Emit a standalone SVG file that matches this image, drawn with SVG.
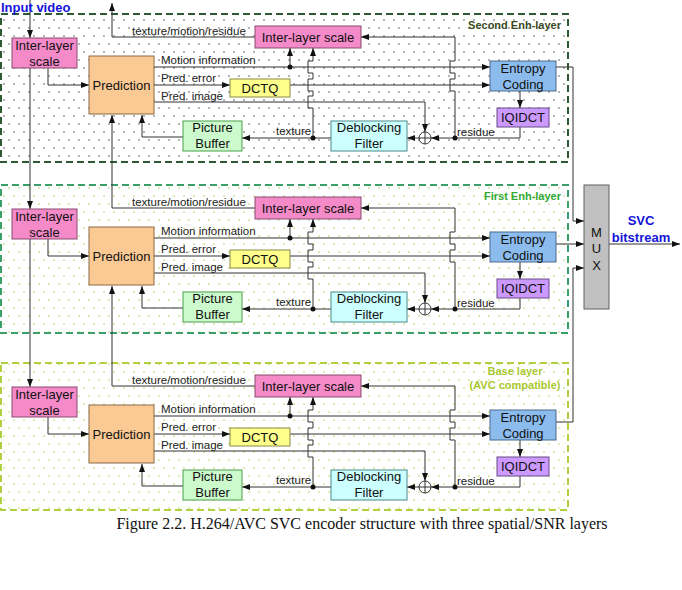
<svg xmlns="http://www.w3.org/2000/svg" width="682" height="590" viewBox="0 0 682 590">
<defs>
<style>
.ln{fill:none;stroke:#333;stroke-width:1}
.ar{marker-end:url(#ah)}
.t{font-family:"Liberation Sans",Arial,sans-serif;font-size:13px;fill:#111;text-anchor:middle}
.s{font-family:"Liberation Sans",Arial,sans-serif;font-size:11.5px;fill:#222}
.lab{font-family:"Liberation Sans",Arial,sans-serif;font-size:11px;font-weight:bold}
.blue{font-family:"Liberation Sans",Arial,sans-serif;font-size:13px;font-weight:bold;fill:#1414d8}
.ils{fill:#f48ac8;stroke:#8a4a70}
.pred{fill:#fbc994;stroke:#8a6a45}
.dctq{fill:#ffff8c;stroke:#8a8a45}
.pbuf{fill:#ccfacc;stroke:#4aa04a}
.dbf{fill:#ccffff;stroke:#4a8a8a}
.ent{fill:#8cbcee;stroke:#4a6a8a}
.iq{fill:#cc99ff;stroke:#6a4a8a}
.dot{fill:#111}
</style>
<marker id="ah" viewBox="0 0 8 8" refX="8" refY="4" markerWidth="8" markerHeight="8" markerUnits="userSpaceOnUse" orient="auto"><path d="M0,1 L8,4 L0,7z" fill="#111"/></marker>
<pattern id="dA" patternUnits="userSpaceOnUse" width="10" height="16"><circle cx="4" cy="4" r="0.8" fill="#555"/><circle cx="9" cy="12" r="0.8" fill="#555"/></pattern>
<pattern id="dB" patternUnits="userSpaceOnUse" width="10" height="16"><circle cx="4" cy="4" r="0.85" fill="#bfd27a"/><circle cx="9" cy="12" r="0.85" fill="#bfd27a"/></pattern>
<pattern id="dC" patternUnits="userSpaceOnUse" width="10" height="16"><circle cx="4" cy="4" r="0.85" fill="#c4d870"/><circle cx="9" cy="12" r="0.85" fill="#c4d870"/></pattern>
</defs>
<rect width="682" height="590" fill="#fff"/>

<g id="layers">
<rect id="layer2" x="1" y="14" width="567" height="148" fill="url(#dA)" stroke="#2d5a32" stroke-width="2" stroke-dasharray="7,4"/>
<rect id="layer1" x="1" y="185" width="567" height="148" fill="url(#dB)" stroke="#3aa06a" stroke-width="2" stroke-dasharray="7,4"/>
<rect id="layer0" x="1" y="363" width="567" height="147" fill="url(#dC)" stroke="#b0d040" stroke-width="2" stroke-dasharray="7,4"/>
<text class="lab" x="561" y="29" text-anchor="end" fill="#3a4a1e">Second Enh-layer</text>
<text class="lab" x="561" y="200" text-anchor="end" fill="#33aa33">First Enh-layer</text>
<text class="lab" x="515" y="375" text-anchor="middle" fill="#a8c830">Base layer</text>
<text class="lab" x="515" y="389" text-anchor="middle" fill="#a8c830">(AVC compatible)</text>
</g>

<g id="connectors">
<g id="conn-top">
<path class="ln ar" d="M48,68 V85 H89"/>
<path class="ln ar" d="M183,137 H142 V115"/>
<path class="ln ar" d="M154,67 H490"/>
<path class="ln ar" d="M154,85 H230"/>
<path class="ln ar" d="M290,85 H490"/>
<path class="ln ar" d="M154,102 H425 V132"/>
<path class="ln ar" d="M331,138 H242"/>
<path class="ln ar" d="M419,138 H407"/>
<path class="ln ar" d="M520,127 V138 H431"/>
<path class="ln ar" d="M520,91 V108"/>
<path class="ln ar" d="M290,67 V48"/>
<path class="ln ar" d="M313,138 V108 H308 V96 H313 V91 H308 V79 H313 V73 H308 V61 H313 V48"/>
<path class="ln ar" d="M455,138 V91 H450 V79 H455 V73 H450 V61 H455 V37 H361"/>
<path class="ln ar" d="M255,37 H112 V3"/>
<circle class="dot" cx="290" cy="67" r="2.5"/><circle class="dot" cx="313" cy="138" r="2.5"/><circle class="dot" cx="455" cy="138" r="2.5"/>
</g>
<g id="conn-mid" transform="translate(0,171)">
<path class="ln ar" d="M48,68 V85 H89"/>
<path class="ln ar" d="M183,137 H142 V115"/>
<path class="ln ar" d="M154,67 H490"/>
<path class="ln ar" d="M154,85 H230"/>
<path class="ln ar" d="M290,85 H490"/>
<path class="ln ar" d="M154,102 H425 V132"/>
<path class="ln ar" d="M331,138 H242"/>
<path class="ln ar" d="M419,138 H407"/>
<path class="ln ar" d="M520,127 V138 H431"/>
<path class="ln ar" d="M520,91 V108"/>
<path class="ln ar" d="M290,67 V48"/>
<path class="ln ar" d="M313,138 V108 H308 V96 H313 V91 H308 V79 H313 V73 H308 V61 H313 V48"/>
<path class="ln ar" d="M455,138 V91 H450 V79 H455 V73 H450 V61 H455 V37 H361"/>
<path class="ln ar" d="M255,37 H112 V-56"/>
<circle class="dot" cx="290" cy="67" r="2.5"/><circle class="dot" cx="313" cy="138" r="2.5"/><circle class="dot" cx="455" cy="138" r="2.5"/>
</g>
<g id="conn-base" transform="translate(0,349)">
<path class="ln ar" d="M48,68 V85 H89"/>
<path class="ln ar" d="M183,137 H142 V115"/>
<path class="ln ar" d="M154,67 H490"/>
<path class="ln ar" d="M154,85 H230"/>
<path class="ln ar" d="M290,85 H490"/>
<path class="ln ar" d="M154,102 H425 V132"/>
<path class="ln ar" d="M331,138 H242"/>
<path class="ln ar" d="M419,138 H407"/>
<path class="ln ar" d="M520,127 V138 H431"/>
<path class="ln ar" d="M520,91 V108"/>
<path class="ln ar" d="M290,67 V48"/>
<path class="ln ar" d="M313,138 V108 H308 V96 H313 V91 H308 V79 H313 V73 H308 V61 H313 V48"/>
<path class="ln ar" d="M455,138 V91 H450 V79 H455 V73 H450 V61 H455 V37 H361"/>
<path class="ln ar" d="M255,37 H112 V-63"/>
<circle class="dot" cx="290" cy="67" r="2.5"/><circle class="dot" cx="313" cy="138" r="2.5"/><circle class="dot" cx="455" cy="138" r="2.5"/>
</g>
<path class="ln ar" d="M30,0 V38"/>
<path class="ln ar" d="M30,68 V209"/>
<path class="ln ar" d="M30,239 V387"/>
<path class="ln ar" d="M556,67 H573 V221 H584"/>
<path class="ln ar" d="M556,244 H584"/>
<path class="ln ar" d="M556,422 H573 V268 H584"/>
<path class="ln ar" d="M609,244 H680"/>
</g>

<g id="labels-top" class="s">
<text x="132" y="35">texture/motion/residue</text>
<text x="161" y="64">Motion information</text>
<text x="161" y="82">Pred. error</text>
<text x="161" y="100">Pred. image</text>
<text x="276" y="135">texture</text>
<text x="457" y="136">residue</text>
</g>
<g id="labels-mid" class="s" transform="translate(0,171)">
<text x="132" y="35">texture/motion/residue</text>
<text x="161" y="64">Motion information</text>
<text x="161" y="82">Pred. error</text>
<text x="161" y="100">Pred. image</text>
<text x="276" y="135">texture</text>
<text x="457" y="136">residue</text>
</g>
<g id="labels-base" class="s" transform="translate(0,349)">
<text x="132" y="35">texture/motion/residue</text>
<text x="161" y="64">Motion information</text>
<text x="161" y="82">Pred. error</text>
<text x="161" y="100">Pred. image</text>
<text x="276" y="135">texture</text>
<text x="457" y="136">residue</text>
</g>

<g id="nodes-top">
<g id="ils-left-2"><rect class="ils" x="12" y="38" width="65" height="30"/><text class="t" x="44.5" y="50">Inter-layer</text><text class="t" x="44.5" y="66">scale</text></g>
<g id="pred-2"><rect class="pred" x="89" y="56" width="65" height="58"/><text class="t" x="121.5" y="90">Prediction</text></g>
<g id="ils-2"><rect class="ils" x="255" y="26" width="106" height="22"/><text class="t" x="308" y="42">Inter-layer scale</text></g>
<g id="dctq-2"><rect class="dctq" x="230" y="79" width="60" height="18"/><text class="t" x="260" y="93">DCTQ</text></g>
<g id="pbuf-2"><rect class="pbuf" x="183" y="121" width="59" height="30"/><text class="t" x="212.5" y="132">Picture</text><text class="t" x="212.5" y="148">Buffer</text></g>
<g id="dbf-2"><rect class="dbf" x="331" y="121" width="76" height="30"/><text class="t" x="369" y="132">Deblocking</text><text class="t" x="369" y="148">Filter</text></g>
<g id="sum-2"><circle cx="425" cy="138" r="6" fill="#fff" stroke="#333"/><path class="ln" d="M419,138 H431 M425,132 V144"/></g>
<g id="ent-2"><rect class="ent" x="490" y="61" width="66" height="30"/><text class="t" x="523" y="73">Entropy</text><text class="t" x="523" y="89">Coding</text></g>
<g id="iq-2"><rect class="iq" x="497" y="108" width="52" height="19"/><text class="t" x="523" y="122">IQIDCT</text></g>
</g>
<g id="nodes-mid" transform="translate(0,171)">
<g id="ils-left-1"><rect class="ils" x="12" y="38" width="65" height="30"/><text class="t" x="44.5" y="50">Inter-layer</text><text class="t" x="44.5" y="66">scale</text></g>
<g id="pred-1"><rect class="pred" x="89" y="56" width="65" height="58"/><text class="t" x="121.5" y="90">Prediction</text></g>
<g id="ils-1"><rect class="ils" x="255" y="26" width="106" height="22"/><text class="t" x="308" y="42">Inter-layer scale</text></g>
<g id="dctq-1"><rect class="dctq" x="230" y="79" width="60" height="18"/><text class="t" x="260" y="93">DCTQ</text></g>
<g id="pbuf-1"><rect class="pbuf" x="183" y="121" width="59" height="30"/><text class="t" x="212.5" y="132">Picture</text><text class="t" x="212.5" y="148">Buffer</text></g>
<g id="dbf-1"><rect class="dbf" x="331" y="121" width="76" height="30"/><text class="t" x="369" y="132">Deblocking</text><text class="t" x="369" y="148">Filter</text></g>
<g id="sum-1"><circle cx="425" cy="138" r="6" fill="#fff" stroke="#333"/><path class="ln" d="M419,138 H431 M425,132 V144"/></g>
<g id="ent-1"><rect class="ent" x="490" y="61" width="66" height="30"/><text class="t" x="523" y="73">Entropy</text><text class="t" x="523" y="89">Coding</text></g>
<g id="iq-1"><rect class="iq" x="497" y="108" width="52" height="19"/><text class="t" x="523" y="122">IQIDCT</text></g>
</g>
<g id="nodes-base" transform="translate(0,349)">
<g id="ils-left-0"><rect class="ils" x="12" y="38" width="65" height="30"/><text class="t" x="44.5" y="50">Inter-layer</text><text class="t" x="44.5" y="66">scale</text></g>
<g id="pred-0"><rect class="pred" x="89" y="56" width="65" height="58"/><text class="t" x="121.5" y="90">Prediction</text></g>
<g id="ils-0"><rect class="ils" x="255" y="26" width="106" height="22"/><text class="t" x="308" y="42">Inter-layer scale</text></g>
<g id="dctq-0"><rect class="dctq" x="230" y="79" width="60" height="18"/><text class="t" x="260" y="93">DCTQ</text></g>
<g id="pbuf-0"><rect class="pbuf" x="183" y="121" width="59" height="30"/><text class="t" x="212.5" y="132">Picture</text><text class="t" x="212.5" y="148">Buffer</text></g>
<g id="dbf-0"><rect class="dbf" x="331" y="121" width="76" height="30"/><text class="t" x="369" y="132">Deblocking</text><text class="t" x="369" y="148">Filter</text></g>
<g id="sum-0"><circle cx="425" cy="138" r="6" fill="#fff" stroke="#333"/><path class="ln" d="M419,138 H431 M425,132 V144"/></g>
<g id="ent-0"><rect class="ent" x="490" y="61" width="66" height="30"/><text class="t" x="523" y="73">Entropy</text><text class="t" x="523" y="89">Coding</text></g>
<g id="iq-0"><rect class="iq" x="497" y="108" width="52" height="19"/><text class="t" x="523" y="122">IQIDCT</text></g>
</g>

<g id="mux"><rect x="584" y="185" width="25" height="124" fill="#c0c0c0" stroke="#606060"/><text class="t" x="596.5" y="237">M</text><text class="t" x="596.5" y="253">U</text><text class="t" x="596.5" y="270">X</text></g>
<g id="io-labels">
<text class="blue" x="1" y="12">Input video</text>
<text class="blue" x="641" y="225" text-anchor="middle">SVC</text>
<text class="blue" x="641" y="242" text-anchor="middle">bitstream</text>
</g>
<text x="362" y="529" text-anchor="middle" font-family="'Liberation Serif','Times New Roman',serif" font-size="16" fill="#111">Figure 2.2. H.264/AVC SVC encoder structure with three spatial/SNR layers</text>
</svg>
